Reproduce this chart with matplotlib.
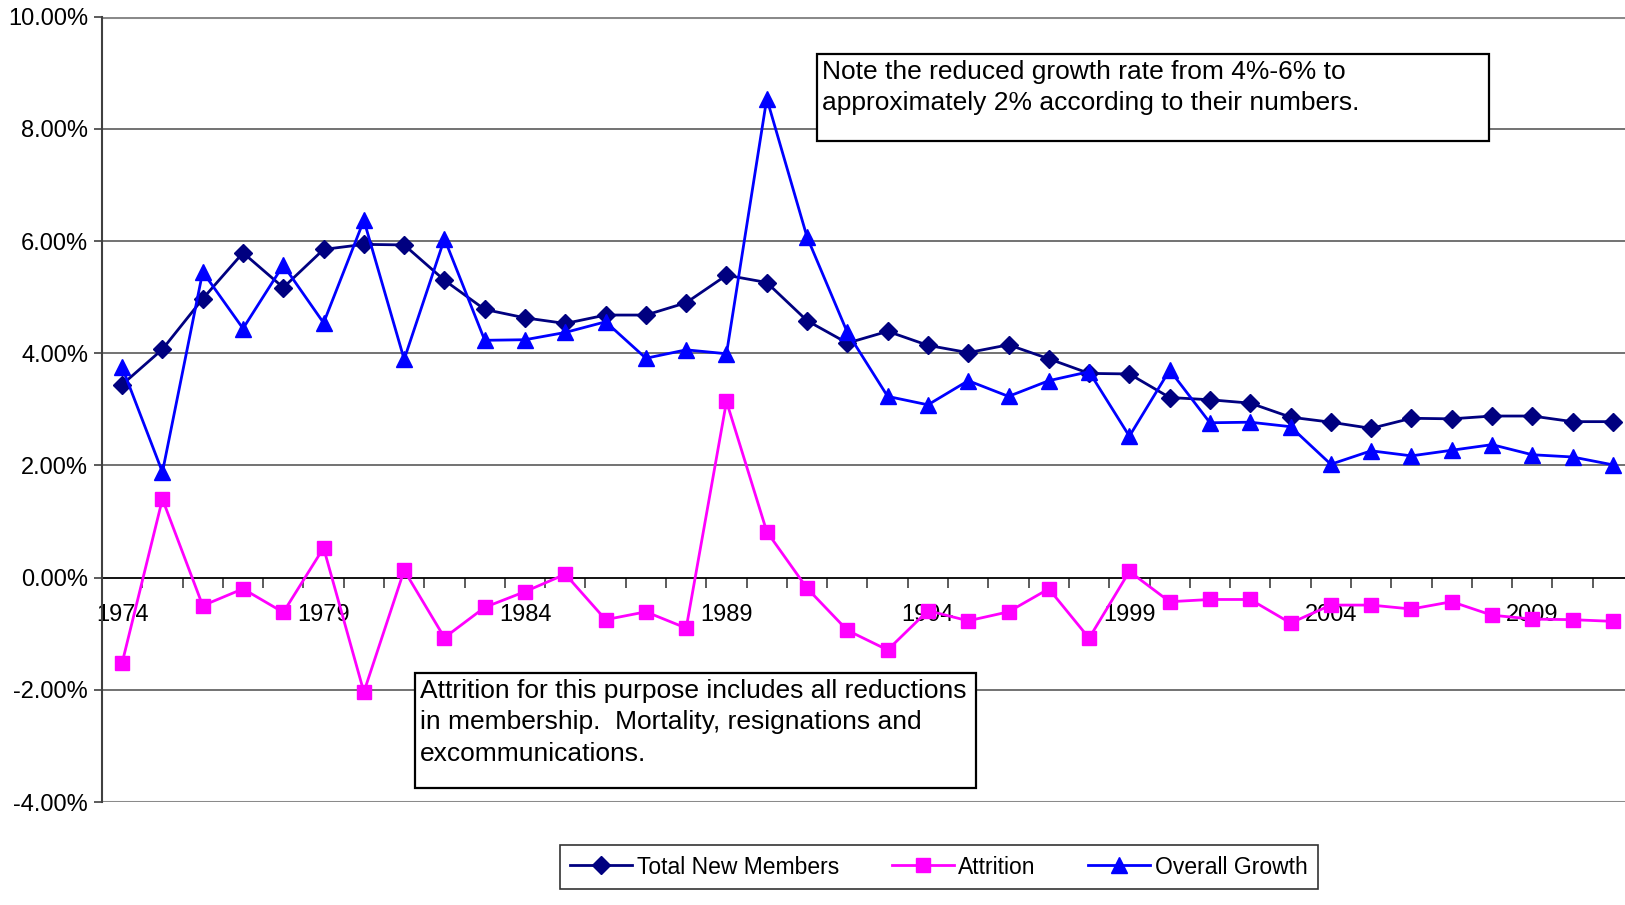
import matplotlib
matplotlib.use("Agg")
import matplotlib.pyplot as plt
from matplotlib.patches import Rectangle
from matplotlib.ticker import FuncFormatter, FixedLocator

years = list(range(1974, 2012))

total_new_members = [3.44, 4.07, 4.97, 5.79, 5.17, 5.85, 5.94, 5.93, 5.30, 4.78,
                     4.63, 4.53, 4.68, 4.68, 4.90, 5.39, 5.26, 4.58, 4.18, 4.39,
                     4.14, 4.01, 4.15, 3.90, 3.64, 3.63, 3.21, 3.17, 3.11, 2.86,
                     2.77, 2.66, 2.84, 2.83, 2.88, 2.88, 2.78, 2.78]

attrition = [-1.52, 1.40, -0.50, -0.20, -0.62, 0.53, -2.04, 0.13, -1.07, -0.53,
             -0.25, 0.06, -0.75, -0.61, -0.90, 3.14, 0.82, -0.19, -0.94, -1.29,
             -0.59, -0.77, -0.61, -0.20, -1.08, 0.11, -0.43, -0.39, -0.39, -0.81,
             -0.49, -0.49, -0.56, -0.43, -0.67, -0.74, -0.75, -0.78]

overall_growth = [3.75, 1.88, 5.45, 4.44, 5.57, 4.54, 6.37, 3.89, 6.04, 4.23,
                  4.24, 4.37, 4.56, 3.91, 4.06, 3.99, 8.54, 6.07, 4.37, 3.23,
                  3.08, 3.51, 3.23, 3.51, 3.67, 2.52, 3.70, 2.76, 2.77, 2.69,
                  2.02, 2.26, 2.17, 2.27, 2.37, 2.19, 2.15, 2.01]

series_names = ["Total New Members", "Attrition", "Overall Growth"]
y_ticks = [-4, -2, 0, 2, 4, 6, 8, 10]
label_years = [1974, 1979, 1984, 1989, 1994, 1999, 2004, 2009]

note1 = "Note the reduced growth rate from 4%-6% to\napproximately 2% according to their numbers."
note2 = ("Attrition for this purpose includes all reductions\n"
         "in membership.  Mortality, resignations and\nexcommunications.")

plt.rcParams['font.family'] = ['Liberation Sans', 'DejaVu Sans']

W, H = 1625, 905
fig = plt.figure(figsize=(W / 100, H / 100), dpi=100)
ax = fig.add_axes([102 / W, 103 / H, 1531 / W, (802 - 16.6) / H])

x = list(range(len(years)))
lw = 2.0
ax.plot(x, total_new_members, color="#000080", lw=lw, marker="D", ms=9,
        label=series_names[0], zorder=3, clip_on=False)
ax.plot(x, attrition, color="#FF00FF", lw=lw, marker="s", ms=10.5,
        label=series_names[1], zorder=4, clip_on=False)
ax.plot(x, overall_growth, color="#0000FF", lw=lw, marker="^", ms=11,
        label=series_names[2], zorder=5, clip_on=False)

ax.set_xlim(-0.5, len(years) - 0.5)
ax.set_ylim(-4, 10)

# y axis
ax.yaxis.set_major_locator(FixedLocator(y_ticks))
ax.yaxis.set_major_formatter(FuncFormatter(lambda v, p: f"{v:.2f}%"))
ax.tick_params(axis="y", direction="out", length=6, width=1.2, color="#404040",
               labelsize=17, pad=4)
for yv in y_ticks:
    if yv in (-4, 10):
        ax.axhline(yv, color="#8a8a8a", lw=2.2, zorder=1)
    elif yv != 0:
        ax.axhline(yv, color="#5a5a5a", lw=1.2, zorder=1)

# x axis at zero
ax.spines["bottom"].set_position(("data", 0))
ax.spines["bottom"].set_color("black")
ax.spines["bottom"].set_linewidth(1.3)
ax.spines["bottom"].set_zorder(2)
ax.spines["top"].set_visible(False)
ax.spines["right"].set_visible(False)
ax.spines["left"].set_color("#404040")
ax.spines["left"].set_linewidth(1.5)

ax.set_xticks([years.index(y) for y in label_years])
ax.set_xticklabels([str(y) for y in label_years])
ax.set_xticks([i - 0.5 for i in range(len(years) + 1)], minor=True)
ax.tick_params(axis="x", which="major", length=0, labelsize=17, pad=19)
ax.tick_params(axis="x", which="minor", direction="out", length=7, width=1.2,
               color="#404040")

# annotation boxes (figure pixel positions)
def note_box(x0, y0, x1, y1, text):
    r = Rectangle((x0 / W, 1 - y1 / H), (x1 - x0) / W, (y1 - y0) / H,
                  transform=fig.transFigure, facecolor="white", edgecolor="black",
                  lw=1.6, zorder=10)
    fig.add_artist(r)
    fig.text((x0 + 5) / W, 1 - (y0 + 6) / H, text, ha="left", va="top",
             fontsize=19, linespacing=1.39, zorder=11)

note_box(817, 54, 1489, 141, note1)
note_box(415, 673, 976, 788, note2)

leg = fig.legend(loc="center", bbox_to_anchor=(939 / W, 1 - 867 / H), ncol=3,
                 fontsize=16.5, frameon=True, fancybox=False, edgecolor="black",
                 handlelength=2.7, columnspacing=2.3, borderpad=0.45,
                 handletextpad=0.2)
leg.get_frame().set_linewidth(1.2)

fig.savefig("out.png", dpi=100, facecolor="white")
